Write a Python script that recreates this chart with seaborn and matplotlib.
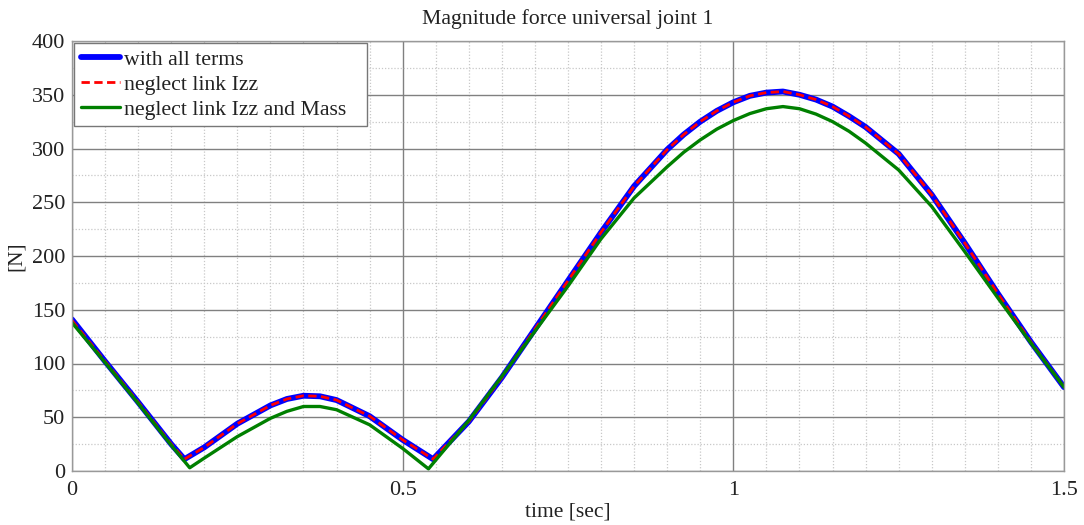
import numpy as np
import pandas as pd
import matplotlib
matplotlib.use("Agg")
import matplotlib.pyplot as plt
from matplotlib.ticker import MultipleLocator
import seaborn as sns

# ---- data ----
t_all = [0, 0.05, 0.1, 0.15, 0.17, 0.2, 0.25, 0.3, 0.325, 0.35, 0.375, 0.4, 0.45,
         0.5, 0.546, 0.6, 0.65, 0.7, 0.75, 0.8, 0.85, 0.9, 0.925, 0.95, 0.975,
         1.0, 1.025, 1.05, 1.075, 1.1, 1.125, 1.15, 1.175, 1.2, 1.25, 1.3, 1.35,
         1.4, 1.45, 1.5]
f_all = [141, 102, 64, 25, 11, 22, 44, 61, 67, 70, 69.5, 66, 51,
         29, 11, 46, 87, 132, 177, 222, 265, 299, 313, 325, 335,
         343, 349, 352, 353, 350, 345.5, 339, 330, 320, 295, 257, 212,
         165, 120, 78]

t_izz = list(t_all)
f_izz = [140, 102, 64, 25, 11, 22, 44, 61, 67, 70, 69.5, 66, 51,
         29, 11, 46, 87, 132, 177, 222, 265, 299, 313, 325, 335,
         343, 349, 352, 353, 350, 345.5, 339, 330, 320, 295, 257, 212,
         165, 120, 78]

t_mass = [0, 0.05, 0.1, 0.15, 0.178, 0.2, 0.25, 0.3, 0.325, 0.35, 0.375, 0.4, 0.45,
          0.5, 0.539, 0.6, 0.65, 0.7, 0.75, 0.8, 0.85, 0.9, 0.925, 0.95, 0.975,
          1.0, 1.025, 1.05, 1.075, 1.1, 1.125, 1.15, 1.175, 1.2, 1.25, 1.3, 1.35,
          1.4, 1.45, 1.5]
f_mass = [138, 101, 63, 24, 3, 12, 32, 49, 55.5, 60, 60, 57, 43,
          21, 2, 47, 88, 130, 172, 216, 254, 283, 296.5, 308, 318,
          326, 332.5, 337, 339, 337, 332, 325, 316, 305, 280, 246, 204,
          161, 119, 78]

labels = ["with all terms", "neglect link Izz", "neglect link Izz and Mass"]

sns.set_style("white")
plt.rcParams["font.family"] = ["Liberation Serif", "DejaVu Serif"]

fig = plt.figure(figsize=(10.84, 5.25), dpi=100)
ax = fig.add_axes([72 / 1084, 54 / 525, 992 / 1084, 430 / 525])

sns.lineplot(x=t_all, y=f_all, ax=ax, color="#0000ff", linewidth=4.2,
             label=labels[0], sort=False)
sns.lineplot(x=t_izz, y=f_izz, ax=ax, color="#ff0000", linewidth=2.0,
             label=labels[1], sort=False)
ax.lines[-1].set_dashes([3, 1.6])
sns.lineplot(x=t_mass, y=f_mass, ax=ax, color="#008000", linewidth=2.4,
             label=labels[2], sort=False)

ax.set_xlim(0, 1.5)
ax.set_ylim(0, 400)
ax.xaxis.set_minor_locator(MultipleLocator(0.05))
ax.yaxis.set_major_locator(MultipleLocator(50))
ax.yaxis.set_minor_locator(MultipleLocator(25))
ax.set_xticks([0, 0.5, 1, 1.5])
ax.set_xticklabels(["0", "0.5", "1", "1.5"])

ax.grid(which="major", color="#808080", linewidth=1.0, linestyle="-")
ax.grid(which="minor", color="#c8c8c8", linewidth=0.9, linestyle=(0, (1, 1.5)))
ax.set_axisbelow(True)
ax.tick_params(which="both", length=0, labelsize=16, pad=5, colors="#222222")
ax.tick_params(axis="x", pad=7)
for s in ax.spines.values():
    s.set_color("#999999")
    s.set_linewidth(1.0)

ax.set_title("Magnitude force universal joint 1", fontsize=15.7, pad=12, color="#222222")
ax.set_xlabel("time [sec]", fontsize=15.5, labelpad=2, color="#222222")
ax.set_ylabel("[N]", fontsize=15.5, labelpad=4, color="#222222")

leg = ax.legend(loc="upper left", fontsize=15.7, frameon=True, fancybox=False,
                borderpad=0.3, handlelength=1.8, handletextpad=0.2,
                labelspacing=0.22, borderaxespad=0.0,
                bbox_to_anchor=(0.002, 0.9953, 0.2954, 0.0), mode="expand")
leg.get_frame().set_edgecolor("#777777")
leg.get_frame().set_linewidth(1.0)
leg.get_frame().set_alpha(1)
for t in leg.get_texts():
    t.set_color("#222222")

fig.savefig("out.png", dpi=100, facecolor="white")
